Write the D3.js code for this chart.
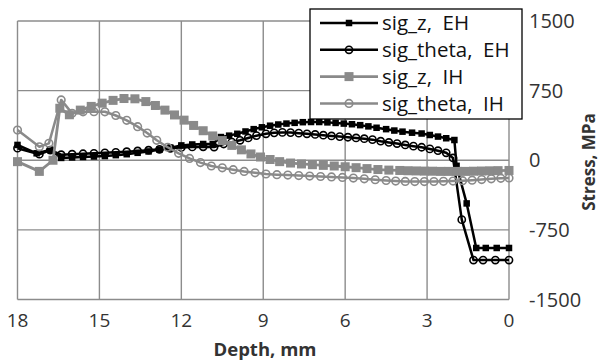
<!DOCTYPE html>
<html>
<head>
<meta charset="utf-8">
<script src="https://cdn.jsdelivr.net/npm/d3@7"></script>
<style>
  body { margin: 0; background: #fff; }
  svg { display: block; font-family: 'Open Sans', sans-serif; }
</style>
</head>
<body>
<div id="chart"></div>
<script>
// Axis ticks
const xTicks = [18, 15, 12, 9, 6, 3, 0];
const yTicks = [-1500, -750, 0, 750, 1500];

// sig_z, EH (black squares)
const depthZEH = [18, 17.3, 16.8, 16.4, 16.0, 15.6, 15.2, 14.8, 14.4, 14.0, 13.6, 13.2, 12.8, 12.4, 12.0, 11.6, 11.2, 10.85, 10.55, 10.25,
  9.95, 9.65, 9.35, 9.05, 8.75, 8.45, 8.15, 7.85, 7.55, 7.25, 6.95, 6.65, 6.35, 6.05, 5.75, 5.45, 5.15, 4.85, 4.5, 4.2,
  3.9, 3.55, 3.2, 2.9, 2.6, 2.3, 2.0, 1.92, 1.55, 1.2, 0.85, 0.45, 0];
const stressZEH = [165, 75, 110, 25, 30, 35, 40, 45, 55, 65, 80, 95, 115, 135, 160, 170, 175, 175, 250, 265,
  285, 310, 335, 355, 372, 385, 395, 403, 410, 412, 412, 408, 402, 395, 388, 378, 365, 350, 335, 320,
  308, 297, 288, 272, 255, 237, 218, -60, -465, -945, -945, -945, -945];

// sig_theta, EH (black open circles)
const depthThEH = [18, 17.2, 16.8, 16.4, 16.0, 15.6, 15.2, 14.8, 14.4, 14.0, 13.6, 13.2, 12.8, 12.4, 12.0, 11.6, 11.2, 10.8, 10.45, 10.15,
  9.85, 9.55, 9.25, 8.9, 8.6, 8.3, 8.0, 7.7, 7.4, 7.1, 6.8, 6.5, 6.2, 5.9, 5.6, 5.3, 5.0, 4.7, 4.4, 4.1,
  3.8, 3.5, 3.2, 2.9, 2.6, 2.3, 2.05, 1.73, 1.3, 0.95, 0.5, 0];
const stressThEH = [130, 65, 110, 60, 65, 70, 75, 80, 85, 92, 100, 108, 118, 128, 138, 143, 145, 142, 175, 195,
  215, 240, 265, 285, 295, 300, 298, 292, 285, 278, 270, 262, 255, 248, 240, 232, 222, 205, 192, 180,
  165, 152, 140, 122, 103, 80, 25, -640, -1075, -1075, -1075, -1075];

// sig_z, IH (grey squares)
const depthZIH = [18, 17.2, 16.7, 16.45, 16.1, 15.7, 15.3, 14.9, 14.5, 14.1, 13.7, 13.3, 12.95, 12.6, 12.25, 11.9, 11.55, 11.2, 10.85, 10.5,
  10.15, 9.8, 9.45, 9.1, 8.75, 8.4, 8.0, 7.6, 7.2, 6.8, 6.4, 6.0, 5.6, 5.2, 4.8, 4.4, 4.0, 3.7, 3.4, 3.1,
  2.8, 2.5, 2.2, 1.9, 1.6, 1.3, 1.0, 0.7, 0.4, 0];
const stressZIH = [-15, -120, 0, 560, 490, 540, 580, 615, 645, 665, 662, 632, 590, 540, 488, 432, 375, 318, 262, 212,
  160, 112, 68, 35, 8, -15, -30, -40, -48, -55, -62, -70, -80, -90, -100, -106, -110, -113, -115, -117,
  -118, -120, -120, -120, -120, -118, -116, -114, -112, -110];

// sig_theta, IH (grey open circles)
const depthThIH = [18, 17.2, 16.85, 16.4, 16.0, 15.6, 15.2, 14.8, 14.4, 14.0, 13.6, 13.25, 12.9, 12.5, 12.1, 11.7, 11.3, 10.9, 10.5, 10.1,
  9.7, 9.3, 8.9, 8.5, 8.1, 7.7, 7.3, 6.9, 6.5, 6.1, 5.7, 5.3, 4.9, 4.5, 4.15, 3.8, 3.45, 3.1, 2.75, 2.4,
  2.05, 1.7, 1.35, 1.0, 0.65, 0.3, 0];
const stressThIH = [325, 145, 182, 650, 505, 522, 523, 522, 482, 430, 362, 293, 215, 140, 75, 20, -25, -62, -82, -102,
  -120, -135, -148, -155, -160, -165, -170, -175, -180, -185, -192, -200, -210, -218, -224, -228, -230, -230, -229, -227,
  -224, -220, -215, -208, -200, -195, -190];

const seriesNames = ['sig_z,  EH', 'sig_theta,  EH', 'sig_z,  IH', 'sig_theta,  IH'];

const BLACK = '#000';
const GREY = '#8a8a8a';

const series = [
  { name: seriesNames[0], depth: depthZEH, stress: stressZEH, color: BLACK, marker: 'square', size: 6.5, width: 2.5 },
  { name: seriesNames[1], depth: depthThEH, stress: stressThEH, color: BLACK, marker: 'circle', size: 3.6, width: 2.5 },
  { name: seriesNames[2], depth: depthZIH, stress: stressZIH, color: GREY, marker: 'square', size: 9, width: 2.8 },
  { name: seriesNames[3], depth: depthThIH, stress: stressThIH, color: GREY, marker: 'circle', size: 3.8, width: 2.5 }
];

const W = 600, H = 362;
const plot = { left: 17.5, right: 509, top: 21, bottom: 299.5 };

const svg = d3.select('#chart').append('svg')
  .attr('width', W)
  .attr('height', H);

const x = d3.scaleLinear().domain([18, 0]).range([plot.left, plot.right]);
const y = d3.scaleLinear().domain([-1500, 1500]).range([plot.bottom, plot.top]);

// Grid lines
const grid = svg.append('g').attr('stroke', '#8c8c8c').attr('stroke-width', 1.4);
grid.selectAll('.vgrid')
  .data(xTicks)
  .join('line')
  .attr('x1', d => x(d)).attr('x2', d => x(d))
  .attr('y1', plot.top).attr('y2', plot.bottom);
grid.selectAll('.hgrid')
  .data(yTicks)
  .join('line')
  .attr('x1', plot.left).attr('x2', plot.right)
  .attr('y1', d => y(d)).attr('y2', d => y(d));

// Tick labels
svg.append('g')
  .selectAll('text')
  .data(xTicks)
  .join('text')
  .attr('x', d => x(d))
  .attr('y', 327)
  .attr('text-anchor', 'middle')
  .attr('fill', '#333')
  .style('font-size', '19px')
  .text(d => d);

svg.append('g')
  .selectAll('text')
  .data(yTicks)
  .join('text')
  .attr('x', 529)
  .attr('y', d => y(d))
  .attr('dy', '0.36em')
  .attr('fill', '#333')
  .style('font-size', '20px')
  .text(d => d);

// Axis titles
svg.append('text')
  .attr('x', 265)
  .attr('y', 356)
  .attr('text-anchor', 'middle')
  .attr('fill', '#333')
  .style('font-size', '18.5px')
  .style('font-weight', 'bold')
  .text('Depth, mm');

svg.append('text')
  .attr('transform', 'translate(595, 162) rotate(-90)')
  .attr('text-anchor', 'middle')
  .attr('fill', '#333')
  .style('font-size', '17px')
  .style('font-weight', 'bold')
  .text('Stress, MPa');

// Series
function drawMarker(g, s, px, py) {
  if (s.marker === 'square') {
    g.append('rect')
      .attr('x', px - s.size / 2).attr('y', py - s.size / 2)
      .attr('width', s.size).attr('height', s.size)
      .attr('fill', s.color);
  } else {
    g.append('circle')
      .attr('cx', px).attr('cy', py).attr('r', s.size)
      .attr('fill', 'none')
      .attr('stroke', s.color)
      .attr('stroke-width', 1.6);
  }
}

const line = d3.line()
  .x(d => x(d[0]))
  .y(d => y(d[1]));

series.forEach(s => {
  const pts = s.depth.map((d, i) => [d, s.stress[i]]);
  const g = svg.append('g');
  g.append('path')
    .attr('d', line(pts))
    .attr('fill', 'none')
    .attr('stroke', s.color)
    .attr('stroke-width', s.width)
    .attr('stroke-linejoin', 'round');
  pts.forEach(p => drawMarker(g, s, x(p[0]), y(p[1])));
});

// Legend
const legend = svg.append('g');
legend.append('rect')
  .attr('x', 310).attr('y', 9)
  .attr('width', 212).attr('height', 110)
  .attr('fill', '#fff')
  .attr('stroke', '#000')
  .attr('stroke-width', 1.3);

series.forEach((s, i) => {
  const ly = 23 + i * 26.8;
  const g = legend.append('g');
  g.append('line')
    .attr('x1', 320).attr('x2', 378)
    .attr('y1', ly).attr('y2', ly)
    .attr('stroke', s.color)
    .attr('stroke-width', s.width);
  drawMarker(g, s, 349, ly);
  g.append('text')
    .attr('x', 382)
    .attr('y', ly)
    .attr('dy', '0.35em')
    .attr('fill', '#111')
    .style('font-size', '20.5px')
    .style('white-space', 'pre')
    .attr('xml:space', 'preserve')
    .text(s.name);
});
</script>
</body>
</html>
